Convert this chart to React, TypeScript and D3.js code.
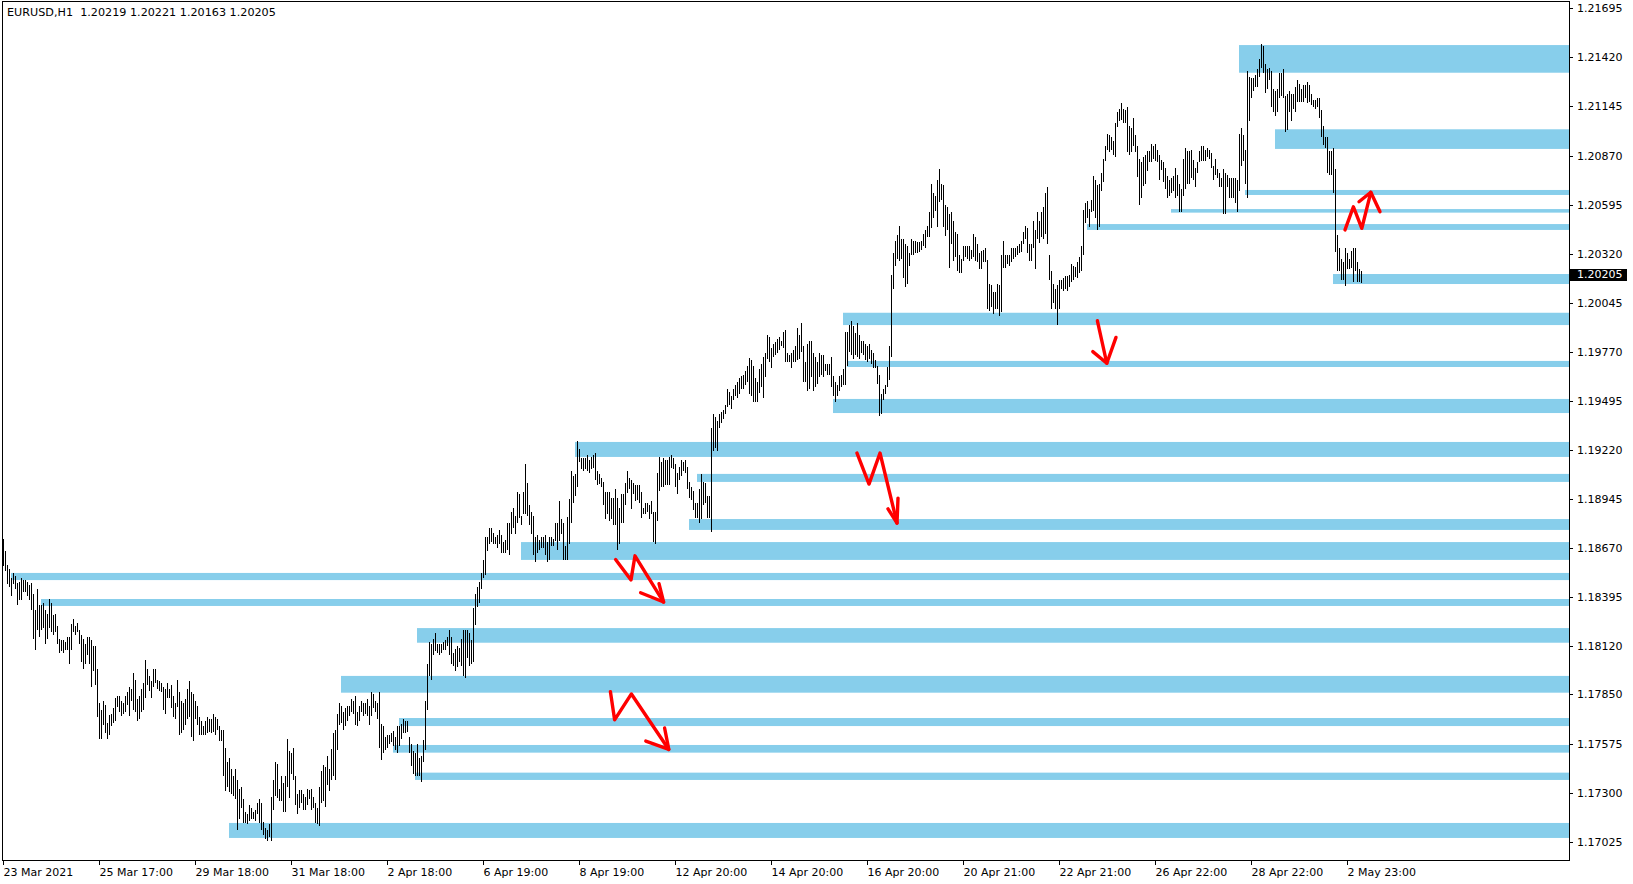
import React from "react";
import * as d3 from "d3";

const W = 1633;
const H = 884;

const titleText = "EURUSD,H1  1.20219 1.20221 1.20163 1.20205";
const lastPrice = 1.20205;

const barHighs = [
  1.1872, 1.1865, 1.1857, 1.1855, 1.1850, 1.1853, 1.1851, 1.1847, 1.1848, 1.1850,
  1.1849, 1.1849, 1.1848, 1.1846, 1.1847, 1.1841, 1.1832, 1.1844, 1.1835, 1.1835,
  1.1836, 1.1832, 1.1830, 1.1838, 1.1836, 1.1829, 1.1830, 1.1823, 1.1816, 1.1815,
  1.1815, 1.1814, 1.1817, 1.1817, 1.1824, 1.1827, 1.1823, 1.1825, 1.1821, 1.1818,
  1.1816, 1.1813, 1.1817, 1.1817, 1.1815, 1.1812, 1.1812, 1.1799, 1.1780, 1.1776,
  1.1781, 1.1779, 1.1769, 1.1773, 1.1774, 1.1777, 1.1783, 1.1784, 1.1784, 1.1781,
  1.1780, 1.1784, 1.1786, 1.1789, 1.1788, 1.1797, 1.1793, 1.1782, 1.1784, 1.1788,
  1.1791, 1.1804, 1.1799, 1.1795, 1.1792, 1.1799, 1.1799, 1.1793, 1.1792, 1.1791,
  1.1789, 1.1788, 1.1791, 1.1788, 1.1790, 1.1784, 1.1780, 1.1793, 1.1786, 1.1781,
  1.1780, 1.1782, 1.1788, 1.1792, 1.1786, 1.1785, 1.1781, 1.1778, 1.1772, 1.1770,
  1.1767, 1.1770, 1.1772, 1.1771, 1.1771, 1.1774, 1.1772, 1.1771, 1.1767, 1.1765,
  1.1765, 1.1755, 1.1747, 1.1749, 1.1743, 1.1739, 1.1743, 1.1737, 1.1732, 1.1733,
  1.1726, 1.1719, 1.1718, 1.1723, 1.1721, 1.1719, 1.1720, 1.1724, 1.1726, 1.1724,
  1.1713, 1.1710, 1.1709, 1.1712, 1.1727, 1.1737, 1.1747, 1.1746, 1.1732, 1.1739,
  1.1735, 1.1739, 1.1760, 1.1753, 1.1752, 1.1755, 1.1739, 1.1729, 1.1731, 1.1731,
  1.1729, 1.1727, 1.1732, 1.1731, 1.1732, 1.1727, 1.1724, 1.1721, 1.1733, 1.1742,
  1.1745, 1.1744, 1.1750, 1.1743, 1.1754, 1.1763, 1.1765, 1.1774, 1.1780, 1.1778,
  1.1775, 1.1777, 1.1778, 1.1778, 1.1782, 1.1781, 1.1784, 1.1775, 1.1778, 1.1781,
  1.1780, 1.1780, 1.1782, 1.1778, 1.1786, 1.1785, 1.1781, 1.1780, 1.1786, 1.1768,
  1.1767, 1.1761, 1.1762, 1.1762, 1.1763, 1.1764, 1.1761, 1.1767, 1.1767, 1.1768,
  1.1771, 1.1770, 1.1770, 1.1761, 1.1757, 1.1753, 1.1752, 1.1757, 1.1749, 1.1750,
  1.1759, 1.1781, 1.1802, 1.1814, 1.1813, 1.1816, 1.1819, 1.1813, 1.1813, 1.1813,
  1.1814, 1.1815, 1.1817, 1.1821, 1.1817, 1.1808, 1.1810, 1.1812, 1.1811, 1.1816,
  1.1821, 1.1821, 1.1821, 1.1819, 1.1815, 1.1833, 1.1841, 1.1845, 1.1848, 1.1853,
  1.1860, 1.1873, 1.1873, 1.1878, 1.1878, 1.1875, 1.1873, 1.1874, 1.1877, 1.1874,
  1.1870, 1.1871, 1.1881, 1.1881, 1.1887, 1.1889, 1.1885, 1.1898, 1.1897, 1.1885,
  1.1898, 1.1914, 1.1903, 1.1891, 1.1887, 1.1885, 1.1873, 1.1874, 1.1871, 1.1873,
  1.1873, 1.1874, 1.1870, 1.1873, 1.1873, 1.1872, 1.1881, 1.1881, 1.1893, 1.1883,
  1.1881, 1.1868, 1.1884, 1.1894, 1.1910, 1.1907, 1.1908, 1.1927, 1.1922, 1.1917,
  1.1917, 1.1917, 1.1919, 1.1916, 1.1918, 1.1919, 1.1920, 1.1910, 1.1908, 1.1906,
  1.1904, 1.1898, 1.1898, 1.1898, 1.1895, 1.1895, 1.1900, 1.1895, 1.1889, 1.1897,
  1.1897, 1.1903, 1.1910, 1.1906, 1.1905, 1.1903, 1.1902, 1.1902, 1.1902, 1.1898,
  1.1889, 1.1892, 1.1892, 1.1891, 1.1893, 1.1887, 1.1887, 1.1909, 1.1918, 1.1915,
  1.1917, 1.1916, 1.1916, 1.1918, 1.1919, 1.1917, 1.1914, 1.1909, 1.1912, 1.1916,
  1.1915, 1.1916, 1.1912, 1.1904, 1.1901, 1.1899, 1.1892, 1.1892, 1.1900, 1.1908,
  1.1904, 1.1903, 1.1896, 1.1896, 1.1934, 1.1942, 1.1940, 1.1938, 1.1942, 1.1943,
  1.1944, 1.1947, 1.1956, 1.1954, 1.1952, 1.1956, 1.1958, 1.1960, 1.1962, 1.1963,
  1.1964, 1.1966, 1.1969, 1.1973, 1.1972, 1.1969, 1.1962, 1.1960, 1.1967, 1.1970,
  1.1974, 1.1976, 1.1986, 1.1985, 1.1979, 1.1981, 1.1982, 1.1984, 1.1985, 1.1983,
  1.1988, 1.1989, 1.1976, 1.1975, 1.1976, 1.1978, 1.1980, 1.1990, 1.1986, 1.1993,
  1.1980, 1.1971, 1.1981, 1.1983, 1.1983, 1.1976, 1.1974, 1.1971, 1.1976, 1.1975,
  1.1975, 1.1970, 1.1970, 1.1970, 1.1974, 1.1963, 1.1960, 1.1958, 1.1963, 1.1964,
  1.1967, 1.1988, 1.1988, 1.1992, 1.1994, 1.1991, 1.1987, 1.1993, 1.1986, 1.1983,
  1.1983, 1.1981, 1.1980, 1.1981, 1.1978, 1.1976, 1.1972, 1.1969, 1.1964, 1.1953,
  1.1956, 1.1958, 1.1968, 1.1980, 1.2020, 1.2032, 1.2039, 1.2042, 1.2047, 1.2040,
  1.2040, 1.2037, 1.2036, 1.2032, 1.2040, 1.2039, 1.2039, 1.2038, 1.2038, 1.2039,
  1.2043, 1.2045, 1.2047, 1.2055, 1.2071, 1.2066, 1.2064, 1.2073, 1.2079, 1.2071,
  1.2070, 1.2059, 1.2058, 1.2054, 1.2055, 1.2050, 1.2044, 1.2043, 1.2031, 1.2029,
  1.2036, 1.2036, 1.2036, 1.2036, 1.2034, 1.2043, 1.2041, 1.2037, 1.2032, 1.2033,
  1.2034, 1.2035, 1.2028, 1.2015, 1.2014, 1.2010, 1.2010, 1.2015, 1.2014, 1.2031,
  1.2039, 1.2031, 1.2031, 1.2031, 1.2035, 1.2035, 1.2035, 1.2036, 1.2037, 1.2039,
  1.2044, 1.2047, 1.2046, 1.2037, 1.2037, 1.2050, 1.2045, 1.2055, 1.2050, 1.2055,
  1.2058, 1.2066, 1.2069, 1.2031, 1.2022, 1.2015, 1.2012, 1.2014, 1.2017, 1.2017,
  1.2018, 1.2019, 1.2019, 1.2020, 1.2026, 1.2025, 1.2024, 1.2027, 1.2030, 1.2036,
  1.2056, 1.2060, 1.2061, 1.2057, 1.2062, 1.2075, 1.2073, 1.2070, 1.2071, 1.2077,
  1.2085, 1.2092, 1.2099, 1.2098, 1.2097, 1.2095, 1.2105, 1.2111, 1.2113, 1.2116,
  1.2113, 1.2112, 1.2114, 1.2103, 1.2102, 1.2108, 1.2098, 1.2092, 1.2085, 1.2083,
  1.2086, 1.2087, 1.2089, 1.2089, 1.2093, 1.2092, 1.2093, 1.2090, 1.2087, 1.2084,
  1.2083, 1.2080, 1.2075, 1.2073, 1.2074, 1.2075, 1.2080, 1.2076, 1.2071, 1.2068,
  1.2085, 1.2091, 1.2089, 1.2089, 1.2090, 1.2084, 1.2080, 1.2083, 1.2089, 1.2092,
  1.2092, 1.2090, 1.2091, 1.2090, 1.2088, 1.2081, 1.2085, 1.2079, 1.2077, 1.2074,
  1.2079, 1.2077, 1.2076, 1.2074, 1.2074, 1.2074, 1.2074, 1.2073, 1.2099, 1.2102,
  1.2098, 1.2090, 1.2134, 1.2131, 1.2130, 1.2130, 1.2132, 1.2135, 1.2141, 1.2149,
  1.2148, 1.2138, 1.2135, 1.2136, 1.2134, 1.2124, 1.2123, 1.2124, 1.2133, 1.2133,
  1.2135, 1.2120, 1.2121, 1.2123, 1.2121, 1.2121, 1.2125, 1.2129, 1.2127, 1.2124,
  1.2126, 1.2126, 1.2128, 1.2126, 1.2121, 1.2118, 1.2118, 1.2119, 1.2119, 1.2112,
  1.2103, 1.2097, 1.2097, 1.2089, 1.2089, 1.2091, 1.2079, 1.2042, 1.2035, 1.2029,
  1.2027, 1.2035, 1.2032, 1.2029, 1.2033, 1.2035, 1.2035, 1.2027, 1.2023, 1.20221,
];

const barLows = [
  1.1858, 1.1855, 1.1848, 1.1846, 1.1841, 1.1848, 1.1845, 1.1836, 1.1839, 1.1839,
  1.1843, 1.1843, 1.1841, 1.1839, 1.1833, 1.1817, 1.1811, 1.1822, 1.1818, 1.1822,
  1.1823, 1.1814, 1.1817, 1.1823, 1.1821, 1.1819, 1.1821, 1.1814, 1.1809, 1.1810,
  1.1809, 1.1811, 1.1811, 1.1803, 1.1811, 1.1821, 1.1819, 1.1821, 1.1814, 1.1804,
  1.1800, 1.1803, 1.1808, 1.1803, 1.1790, 1.1799, 1.1791, 1.1773, 1.1761, 1.1761,
  1.1769, 1.1764, 1.1761, 1.1763, 1.1768, 1.1770, 1.1771, 1.1779, 1.1776, 1.1774,
  1.1775, 1.1776, 1.1780, 1.1774, 1.1782, 1.1777, 1.1776, 1.1771, 1.1772, 1.1776,
  1.1777, 1.1784, 1.1791, 1.1788, 1.1784, 1.1790, 1.1792, 1.1789, 1.1788, 1.1787,
  1.1777, 1.1775, 1.1784, 1.1784, 1.1778, 1.1773, 1.1772, 1.1779, 1.1763, 1.1764,
  1.1766, 1.1769, 1.1772, 1.1773, 1.1762, 1.1760, 1.1772, 1.1769, 1.1763, 1.1763,
  1.1763, 1.1763, 1.1764, 1.1765, 1.1764, 1.1765, 1.1763, 1.1766, 1.1760, 1.1760,
  1.1740, 1.1732, 1.1734, 1.1731, 1.1730, 1.1729, 1.1727, 1.1710, 1.1716, 1.1722,
  1.1714, 1.1714, 1.1713, 1.1715, 1.1716, 1.1716, 1.1715, 1.1719, 1.1714, 1.1710,
  1.1707, 1.1705, 1.1704, 1.1706, 1.1704, 1.1721, 1.1729, 1.1728, 1.1726, 1.1726,
  1.1720, 1.1720, 1.1734, 1.1728, 1.1741, 1.1738, 1.1724, 1.1719, 1.1722, 1.1725,
  1.1721, 1.1721, 1.1724, 1.1727, 1.1721, 1.1722, 1.1714, 1.1713, 1.1712, 1.1725,
  1.1726, 1.1723, 1.1735, 1.1732, 1.1738, 1.1740, 1.1738, 1.1755, 1.1769, 1.1770,
  1.1766, 1.1768, 1.1771, 1.1774, 1.1776, 1.1775, 1.1769, 1.1768, 1.1771, 1.1776,
  1.1774, 1.1775, 1.1774, 1.1769, 1.1774, 1.1778, 1.1776, 1.1772, 1.1756, 1.1749,
  1.1753, 1.1755, 1.1756, 1.1758, 1.1759, 1.1757, 1.1755, 1.1753, 1.1757, 1.1761,
  1.1764, 1.1764, 1.1765, 1.1753, 1.1746, 1.1741, 1.1740, 1.1740, 1.1740, 1.1737,
  1.1748, 1.1755, 1.1777, 1.1796, 1.1794, 1.1808, 1.1810, 1.1809, 1.1808, 1.1809,
  1.1811, 1.1811, 1.1813, 1.1808, 1.1803, 1.1802, 1.1799, 1.1801, 1.1804, 1.1802,
  1.1796, 1.1795, 1.1806, 1.1802, 1.1803, 1.1804, 1.1825, 1.1835, 1.1837, 1.1845,
  1.1851, 1.1853, 1.1866, 1.1870, 1.1871, 1.1870, 1.1870, 1.1868, 1.1870, 1.1865,
  1.1865, 1.1865, 1.1867, 1.1864, 1.1876, 1.1879, 1.1876, 1.1882, 1.1885, 1.1881,
  1.1887, 1.1887, 1.1886, 1.1881, 1.1876, 1.1864, 1.1860, 1.1865, 1.1867, 1.1868,
  1.1868, 1.1864, 1.1860, 1.1861, 1.1869, 1.1869, 1.1872, 1.1867, 1.1872, 1.1876,
  1.1861, 1.1861, 1.1861, 1.1870, 1.1882, 1.1893, 1.1897, 1.1902, 1.1916, 1.1912,
  1.1911, 1.1912, 1.1911, 1.1910, 1.1912, 1.1913, 1.1906, 1.1903, 1.1904, 1.1902,
  1.1892, 1.1884, 1.1887, 1.1883, 1.1884, 1.1881, 1.1881, 1.1867, 1.1870, 1.1882,
  1.1882, 1.1892, 1.1899, 1.1901, 1.1890, 1.1898, 1.1894, 1.1895, 1.1893, 1.1885,
  1.1887, 1.1887, 1.1888, 1.1884, 1.1887, 1.1871, 1.1870, 1.1883, 1.1900, 1.1902,
  1.1902, 1.1903, 1.1903, 1.1903, 1.1913, 1.1912, 1.1902, 1.1898, 1.1906, 1.1908,
  1.1911, 1.1910, 1.1901, 1.1896, 1.1895, 1.1889, 1.1885, 1.1885, 1.1882, 1.1884,
  1.1892, 1.1893, 1.1885, 1.1885, 1.1877, 1.1922, 1.1924, 1.1922, 1.1935, 1.1938,
  1.1940, 1.1943, 1.1947, 1.1948, 1.1946, 1.1951, 1.1953, 1.1952, 1.1954, 1.1957,
  1.1957, 1.1959, 1.1961, 1.1954, 1.1953, 1.1950, 1.1950, 1.1950, 1.1955, 1.1958,
  1.1952, 1.1964, 1.1974, 1.1972, 1.1969, 1.1975, 1.1976, 1.1977, 1.1979, 1.1981,
  1.1980, 1.1972, 1.1972, 1.1972, 1.1969, 1.1972, 1.1972, 1.1973, 1.1974, 1.1978,
  1.1961, 1.1961, 1.1956, 1.1957, 1.1964, 1.1956, 1.1958, 1.1960, 1.1964, 1.1965,
  1.1964, 1.1967, 1.1965, 1.1965, 1.1958, 1.1953, 1.1950, 1.1953, 1.1956, 1.1958,
  1.1959, 1.1959, 1.1970, 1.1978, 1.1976, 1.1974, 1.1976, 1.1975, 1.1974, 1.1977,
  1.1976, 1.1973, 1.1972, 1.1974, 1.1971, 1.1969, 1.1969, 1.1960, 1.1942, 1.1943,
  1.1951, 1.1954, 1.1958, 1.1962, 1.1975, 1.2013, 1.2026, 1.2030, 1.2029, 1.2030,
  1.2019, 1.2014, 1.2016, 1.2026, 1.2032, 1.2032, 1.2033, 1.2033, 1.2034, 1.2035,
  1.2037, 1.2036, 1.2042, 1.2042, 1.2047, 1.2053, 1.2057, 1.2048, 1.2062, 1.2063,
  1.2048, 1.2043, 1.2046, 1.2025, 1.2038, 1.2029, 1.2031, 1.2023, 1.2022, 1.2022,
  1.2029, 1.2031, 1.2030, 1.2029, 1.2030, 1.2031, 1.2029, 1.2028, 1.2024, 1.2024,
  1.2028, 1.2028, 1.2002, 1.2001, 1.2003, 1.1999, 1.2002, 1.2002, 1.1998, 1.2000,
  1.2025, 1.2025, 1.2027, 1.2026, 1.2028, 1.2030, 1.2031, 1.2032, 1.2033, 1.2034,
  1.2038, 1.2041, 1.2033, 1.2029, 1.2029, 1.2036, 1.2024, 1.2041, 1.2039, 1.2042,
  1.2041, 1.2044, 1.2038, 1.2018, 1.2002, 1.2005, 1.2002, 1.1993, 1.2002, 1.2013,
  1.2012, 1.2013, 1.2012, 1.2014, 1.2017, 1.2018, 1.2020, 1.2019, 1.2022, 1.2023,
  1.2032, 1.2050, 1.2053, 1.2048, 1.2056, 1.2057, 1.2053, 1.2046, 1.2048, 1.2068,
  1.2073, 1.2085, 1.2091, 1.2090, 1.2091, 1.2088, 1.2087, 1.2104, 1.2107, 1.2108,
  1.2106, 1.2106, 1.2090, 1.2088, 1.2090, 1.2093, 1.2090, 1.2076, 1.2060, 1.2064,
  1.2071, 1.2072, 1.2079, 1.2084, 1.2084, 1.2086, 1.2085, 1.2084, 1.2074, 1.2080,
  1.2073, 1.2069, 1.2064, 1.2065, 1.2067, 1.2068, 1.2064, 1.2065, 1.2056, 1.2056,
  1.2065, 1.2069, 1.2072, 1.2072, 1.2075, 1.2074, 1.2070, 1.2078, 1.2084, 1.2085,
  1.2085, 1.2085, 1.2087, 1.2086, 1.2081, 1.2074, 1.2077, 1.2075, 1.2070, 1.2070,
  1.2055, 1.2055, 1.2070, 1.2064, 1.2064, 1.2064, 1.2061, 1.2056, 1.2068, 1.2082,
  1.2085, 1.2072, 1.2064, 1.2107, 1.2120, 1.2124, 1.2126, 1.2126, 1.2132, 1.2137,
  1.2134, 1.2123, 1.2125, 1.2130, 1.2115, 1.2112, 1.2110, 1.2112, 1.2120, 1.2121,
  1.2120, 1.2101, 1.2102, 1.2112, 1.2107, 1.2114, 1.2112, 1.2118, 1.2118, 1.2118,
  1.2118, 1.2120, 1.2117, 1.2118, 1.2116, 1.2115, 1.2114, 1.2115, 1.2109, 1.2098,
  1.2094, 1.2092, 1.2078, 1.2077, 1.2077, 1.2067, 1.2034, 1.2023, 1.2023, 1.2018,
  1.2018, 1.2015, 1.2024, 1.2024, 1.2025, 1.2017, 1.2023, 1.2017, 1.2017, 1.20163,
];

// time axis labels, one every 48 bars
const timeLabels = [
  "23 Mar 2021", "25 Mar 17:00", "29 Mar 18:00", "31 Mar 18:00", "2 Apr 18:00",
  "6 Apr 19:00", "8 Apr 19:00", "12 Apr 20:00", "14 Apr 20:00", "16 Apr 20:00",
  "20 Apr 21:00", "22 Apr 21:00", "26 Apr 22:00", "28 Apr 22:00", "2 May 23:00",
];
const timeLabelStep = 48;

const priceTicks = [
  1.21695, 1.2142, 1.21145, 1.2087, 1.20595, 1.2032, 1.20045, 1.1977, 1.19495,
  1.1922, 1.18945, 1.1867, 1.18395, 1.1812, 1.1785, 1.17575, 1.173, 1.17025,
];

// supply / demand zones (start bar, top price, bottom price)
const zoneStartBar = [618, 636, 621, 584, 542, 665, 420, 422, 415, 286, 347, 343, 259, 4, 19, 207, 169, 198, 195, 206, 113];
const zoneTop = [1.21489, 1.21017, 1.20677, 1.2057, 1.20486, 1.20206, 1.19989, 1.19719, 1.19506, 1.19265, 1.19086, 1.18833, 1.18704, 1.18531, 1.18385, 1.18222, 1.17954, 1.17718, 1.17567, 1.17412, 1.1713];
const zoneBottom = [1.21334, 1.20907, 1.20649, 1.2055, 1.20453, 1.2015, 1.1992, 1.19685, 1.19427, 1.19181, 1.19041, 1.18772, 1.18604, 1.18491, 1.18346, 1.1814, 1.1786, 1.17673, 1.17524, 1.17371, 1.17046];

// hand drawn red arrows: [bar, price] points
const arrowShafts: [number, number][][] = [
  [[547.2, 1.19944], [551.9, 1.19706]],
  [[427, 1.19203], [433, 1.19029], [438.5, 1.19203], [447, 1.18811]],
  [[306.3, 1.18606], [314, 1.18492], [316, 1.18627], [330.3, 1.18368]],
  [[303.7, 1.17866], [305.8, 1.17708], [314.2, 1.17853], [332.9, 1.17542]],
  [[671, 1.20453], [675.2, 1.20583], [679.4, 1.20462], [683.9, 1.20664]],
];
const arrowHeads: [number, number][][] = [
  [[544.9, 1.19771], [551.9, 1.19706], [556.5, 1.19851]],
  [[442.5, 1.1889], [447, 1.18811], [447.5, 1.1895]],
  [[318.8, 1.1842], [330.3, 1.18368], [328, 1.18471]],
  [[321.4, 1.17589], [332.9, 1.17542], [330.8, 1.17662]],
  [[678, 1.20611], [683.9, 1.20664], [688.5, 1.20555]],
];

const PLOT_LEFT = 2;
const PLOT_RIGHT = 1569;
const PLOT_TOP = 1;
const PLOT_BOTTOM = 860;
const FONT = "'DejaVu Sans', Verdana, sans-serif";

export default function App() {
  const x = d3.scaleLinear().domain([0, 783]).range([3, 1569]);
  const y = d3.scaleLinear().domain([1.17025, 1.21695]).range([841.7, 8.3]);
  const px = (v: number) => Math.round(x(v)) + 0.5;

  const line = d3
    .line<[number, number]>()
    .x((d) => x(d[0]))
    .y((d) => y(d[1]));

  return (
    <svg
      width={W}
      height={H}
      style={{ position: "absolute", left: 0, top: 0, display: "block", background: "#fff" }}
      fontFamily={FONT}
    >
      <rect x={0} y={0} width={W} height={H} fill="#fff" />
      {/* zones */}
      {zoneStartBar.map((s, i) => {
        const x0 = Math.round(x(s));
        const y0 = y(zoneTop[i]);
        const y1 = y(zoneBottom[i]);
        return (
          <rect
            key={"z" + i}
            x={x0}
            y={y0}
            width={PLOT_RIGHT - x0}
            height={y1 - y0}
            fill="#87CEEB"
          />
        );
      })}
      {/* bars */}
      <g stroke="#000" strokeWidth={1} shapeRendering="crispEdges">
        {barHighs.map((h, i) => {
          const yh = Math.floor(y(h));
          const yl = Math.max(Math.ceil(y(barLows[i])), yh + 1);
          return <line key={"b" + i} x1={px(i)} x2={px(i)} y1={yh} y2={yl + 1} />;
        })}
      </g>
      {/* arrows */}
      <g fill="none" stroke="#FF0000" strokeWidth={3.4} strokeLinejoin="round" strokeLinecap="round">
        {arrowShafts.map((a, i) => (
          <path key={"as" + i} d={line(a) || ""} />
        ))}
        {arrowHeads.map((a, i) => (
          <path key={"ah" + i} d={line(a) || ""} />
        ))}
      </g>
      {/* frame */}
      <rect
        x={PLOT_LEFT + 0.5}
        y={PLOT_TOP + 0.5}
        width={PLOT_RIGHT - PLOT_LEFT}
        height={PLOT_BOTTOM - PLOT_TOP}
        fill="none"
        stroke="#000"
        strokeWidth={1}
        shapeRendering="crispEdges"
      />
      {/* title */}
      <text x={7} y={16} fontSize={11.2} fill="#000" style={{ whiteSpace: "pre" }} xmlSpace="preserve">
        {titleText}
      </text>
      {/* price axis */}
      <g fontSize={11} fill="#000">
        {priceTicks.map((t, i) => {
          const yy = Math.round(y(t)) + 0.5;
          return (
            <g key={"pt" + i}>
              <line x1={PLOT_RIGHT + 0.5} x2={PLOT_RIGHT + 4} y1={yy} y2={yy} stroke="#000" shapeRendering="crispEdges" />
              <text x={1577} y={yy} dominantBaseline="central">
                {t.toFixed(5)}
              </text>
            </g>
          );
        })}
      </g>
      {/* last price label */}
      <g>
        <rect x={1570} y={Math.round(y(lastPrice)) - 5} width={57} height={12} fill="#000" />
        <text x={1577} y={Math.round(y(lastPrice)) + 0.5} dominantBaseline="central" fontSize={11} fill="#fff">
          {lastPrice.toFixed(5)}
        </text>
      </g>
      {/* time axis */}
      <g fontSize={11} fill="#000">
        {timeLabels.map((lab, i) => {
          const xx = Math.round(x(i * timeLabelStep)) + 0.5;
          return (
            <g key={"tl" + i}>
              <line x1={xx} x2={xx} y1={PLOT_BOTTOM} y2={PLOT_BOTTOM + 5} stroke="#000" shapeRendering="crispEdges" />
              <text x={xx} y={876}>
                {lab}
              </text>
            </g>
          );
        })}
      </g>
    </svg>
  );
}
